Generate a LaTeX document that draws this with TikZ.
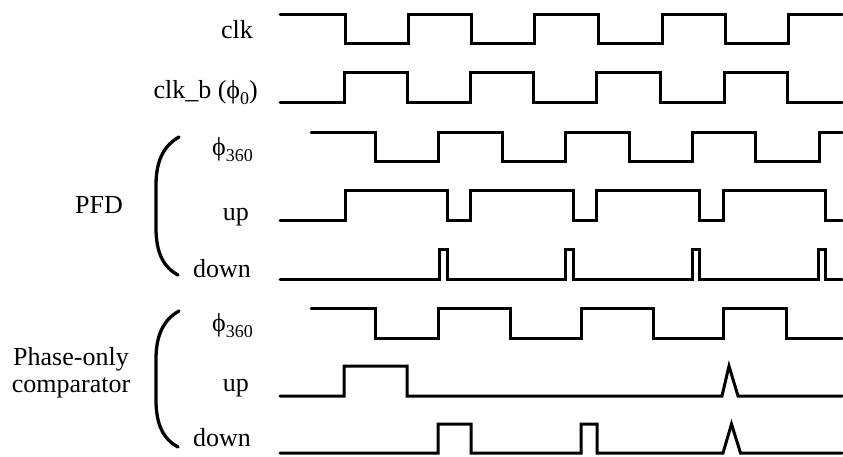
\documentclass[tikz,border=0pt]{standalone}
\usepackage{fontspec}
\setmainfont{Liberation Serif}
\newcommand{\lowsub}[1]{\raisebox{-0.26em}{\fontsize{18}{20}\selectfont #1}}
\begin{document}
\begin{tikzpicture}[x=1pt,y=-1pt,
  wave/.style={line width=3pt, line join=miter, line cap=round},
  lbl/.style={anchor=base east, inner sep=0pt, font=\fontsize{26}{29}\selectfont},
  grp/.style={anchor=base, inner sep=0pt, font=\fontsize{26}{29}\selectfont, align=center},
  brk/.style={line width=3.3pt, line cap=round}]
\useasboundingbox (0,0) rectangle (843,456);

% labels
\node[lbl] (lclk) at (253,38) {clk};
\node[lbl] (lclkb) at (258,98) {clk\_b (ϕ\lowsub{0})};
\node[lbl] (lphia) at (253,155) {ϕ\lowsub{360}};
\node[lbl] (lupa) at (249,220) {up};
\node[lbl] (ldna) at (251,277) {down};
\node[lbl] (lphib) at (253,331) {ϕ\lowsub{360}};
\node[lbl] (lupb) at (249,391) {up};
\node[lbl] (ldnb) at (251,446) {down};
\node[grp] (gpfd) at (99,213) {PFD};
\node[grp] (gpoc1) at (71,365) {Phase-only};
\node[grp] (gpoc2) at (71,392) {comparator};

% brackets
\draw[brk] (179,137) .. controls (163,146) and (156,162) .. (156,185) -- (156,228) .. controls (156,252) and (163,267) .. (178,275);
\draw[brk] (179,311) .. controls (163,320) and (156,336) .. (156,359) -- (156,400) .. controls (156,424) and (163,439) .. (178,447);

% clk
\draw[wave] (280,14) -- (345,14) -- (345,43) -- (408,43) -- (408,14) -- (471,14) -- (471,43) -- (534,43) -- (534,14) -- (598,14) -- (598,43) -- (662,43) -- (662,14) -- (725,14) -- (725,43) -- (788,43) -- (788,14) -- (842,14);
% clk_b
\draw[wave] (280,102) -- (344,102) -- (344,72) -- (407,72) -- (407,102) -- (470,102) -- (470,72) -- (533,72) -- (533,102) -- (596,102) -- (596,72) -- (660,72) -- (660,102) -- (724,102) -- (724,72) -- (787,72) -- (787,102) -- (842,102);
% phi360 (PFD)
\draw[wave] (311,132) -- (375,132) -- (375,161) -- (438.5,161) -- (438.5,132) -- (502,132) -- (502,161) -- (565,161) -- (565,132) -- (629,132) -- (629,161) -- (692,161) -- (692,132) -- (755,132) -- (755,161) -- (819,161) -- (819,132) -- (842,132);
% up (PFD)
\draw[wave] (280,220) -- (345,220) -- (345,190) -- (447,190) -- (447,220) -- (470,220) -- (470,190) -- (573,190) -- (573,220) -- (596,220) -- (596,190) -- (699,190) -- (699,220) -- (723,220) -- (723,190) -- (825,190) -- (825,220) -- (842,220);
% down (PFD)
\draw[wave] (280,279) -- (439,279) -- (439,249) -- (447,249) -- (447,279) -- (565,279) -- (565,249) -- (573,249) -- (573,279) -- (692,279) -- (692,249) -- (699,249) -- (699,279) -- (818,279) -- (818,249) -- (825,249) -- (825,279) -- (842,279);
% phi360 (phase-only)
\draw[wave] (311,308) -- (375,308) -- (375,338) -- (438.5,338) -- (438.5,308) -- (510,308) -- (510,338) -- (581,338) -- (581,308) -- (653,308) -- (653,338) -- (723,338) -- (723,308) -- (786,308) -- (786,338) -- (842,338);
% up (phase-only)
\draw[wave] (280,396) -- (344,396) -- (344,366) -- (407,366) -- (407,396) -- (722,396) -- (729,366) -- (738,396) -- (842,396);
% down (phase-only)
\draw[wave] (280,453) -- (438,453) -- (438,424) -- (471,424) -- (471,453) -- (581,453) -- (581,424) -- (597,424) -- (597,453) -- (723,453) -- (731.5,424) -- (740.5,453) -- (842,453);
\end{tikzpicture}
\end{document}
